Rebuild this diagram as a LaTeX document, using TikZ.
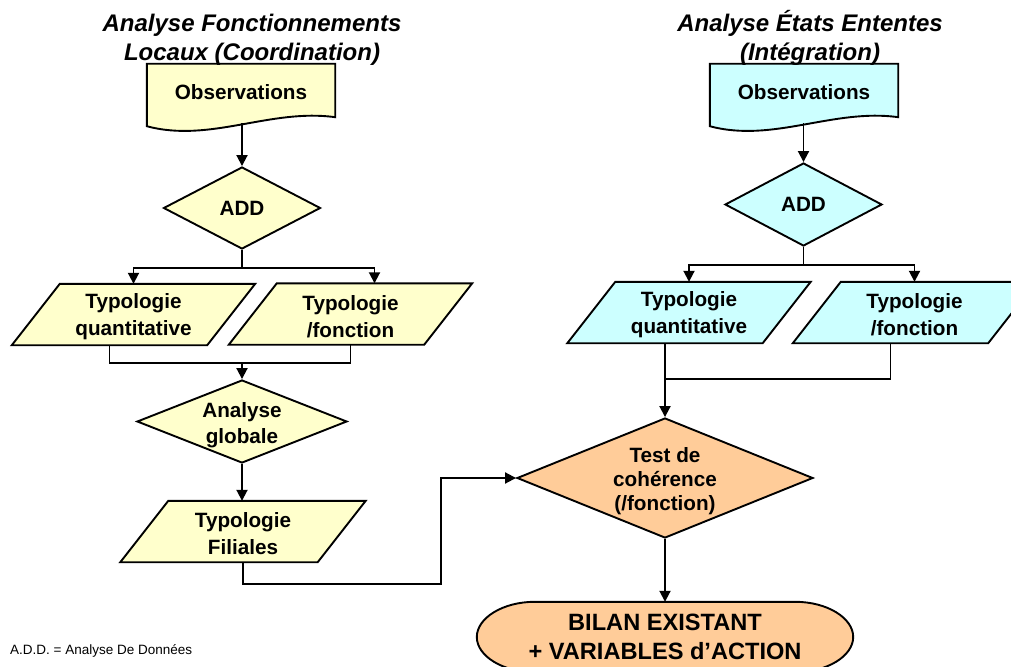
\documentclass[tikz,border=0pt]{standalone}
\usepackage{fontspec}
\setmainfont{Liberation Sans}
\usetikzlibrary{shapes.geometric,arrows.meta,calc,backgrounds}
\definecolor{yel}{HTML}{FFFFCC}
\definecolor{cya}{HTML}{CCFFFF}
\definecolor{ora}{HTML}{FFCC99}

\begin{document}
\begin{tikzpicture}[x=1pt, y=-1pt,
    txt/.style={font=\fontsize{20.7}{27}\selectfont\bfseries, align=center, inner sep=0pt},
    heading/.style={font=\fontsize{24}{29}\selectfont\bfseries\itshape, align=center, inner sep=0pt},
    doc/.style={txt, minimum width=188pt, minimum height=56pt},
    io/.style={txt, minimum width=195pt, minimum height=61pt, text height=47pt},
    decision/.style={txt, diamond, draw, line width=1.9pt, shape aspect=2.5},
    link/.style={line width=1.9pt},
    flow/.style={link, -{Triangle[length=11pt,width=11pt]}}]
  \useasboundingbox (0,0) rectangle (1011,666);

  % Titles
  \node[heading] (titleL) at (252,40) {Analyse Fonctionnements\\Locaux (Coordination)};
  \node[heading] (titleR) at (810,38) {Analyse États Ententes\\(Intégration)};

  % Left column
  \node[doc] (obsL) at (241,92) {Observations};
  \node[decision, fill=yel, minimum width=157pt, minimum height=82pt] (addL) at (242,208) {ADD};
  \node[io] (qtL) at (133.5,314.5) {Typologie\\quantitative};
  \node[io] (fnL) at (350.5,314) {Typologie\\/fonction};
  \coordinate (joinL) at (242,363);
  \node[decision, fill=yel, minimum width=210pt, minimum height=83pt, text height=44pt, text depth=0pt,
        font=\fontsize{20.7}{26}\selectfont\bfseries] (globL) at (242,421.5) {Analyse\\globale};
  \node[io, minimum width=197pt, text height=46pt] (filL) at (243,531.5) {Typologie\\Filiales};
  \coordinate (turnL) at (441,478);

  % Right column
  \node[doc] (obsR) at (804,92) {Observations};
  \node[decision, fill=cya, minimum width=157pt, minimum height=83pt] (addR) at (803.5,204.5) {ADD};
  \node[io] (qtR) at (689,312.5) {Typologie\\quantitative};
  \node[io] (fnR) at (914.5,312.5) {Typologie\\/fonction};
  \coordinate (joinR) at (665,379);
  \node[decision, fill=ora, minimum width=296pt, minimum height=120pt, text height=69pt,
        font=\fontsize{20.7}{24}\selectfont\bfseries] (test) at (665,478) {Test de\\cohérence\\(/fonction)};
  \node[txt, minimum width=376pt, minimum height=70pt,
        font=\fontsize{23.6}{29}\selectfont\bfseries] (bilan) at (665,637) {BILAN EXISTANT\\+ VARIABLES d’ACTION};

  \node[anchor=west, inner sep=0pt, font=\fontsize{13.5}{15}\selectfont] (note) at (10,651) {A.D.D. = Analyse De Données};

  % Shapes behind the texts
  \begin{pgfonlayer}{background}
    \foreach \n/\c in {obsL/yel, obsR/cya}
      \draw[link, fill=\c] ($(\n.south west)+(0,6)$) -- (\n.north west) -- (\n.north east)
        -- ($(\n.south east)+(0,-3)$) .. controls ($(\n.south)+(29,-12)$) and ($(\n.south)+(-31,23)$)
        .. ($(\n.south west)+(0,6)$) -- cycle;
    \foreach \n/\c in {qtL/yel, fnL/yel, filL/yel, qtR/cya, fnR/cya}
      \draw[link, fill=\c] ($(\n.south west)+(-24,0)$) -- ($(\n.north west)+(24,0)$)
        -- ($(\n.north east)+(24,0)$) -- ($(\n.south east)+(-24,0)$) -- cycle;
    \draw[link, fill=ora] ($(bilan.north west)+(58,0)$) -- ($(bilan.north east)+(-58,0)$)
      .. controls ($(bilan.north east)+(-26,0)$) and ($(bilan.east)+(0,-19)$) .. (bilan.east)
      .. controls ($(bilan.east)+(0,19)$) and ($(bilan.south east)+(-26,0)$) .. ($(bilan.south east)+(-58,0)$)
      -- ($(bilan.south west)+(58,0)$)
      .. controls ($(bilan.south west)+(26,0)$) and ($(bilan.west)+(0,19)$) .. (bilan.west)
      .. controls ($(bilan.west)+(0,-19)$) and ($(bilan.north west)+(26,0)$) .. ($(bilan.north west)+(58,0)$) -- cycle;
  \end{pgfonlayer}

  % Left flow
  \draw[flow] ($(addL.north |- obsL.south)+(0,3)$) -- (addL.north);
  \draw[flow] (addL.south) -- ++(0,18) -| (qtL.north);
  \draw[flow] (addL.south) -- ++(0,18) -| ($(fnL.north)+(24,0)$);
  \draw[link] ($(qtL.south)+(-24,0)$) |- (joinL) -| (fnL.south);
  \draw[flow] (joinL) -- (globL.north);
  \draw[flow] (globL.south) -- (globL.south |- filL.north);
  \draw[flow] (filL.south) -- ++(0,22) -| (turnL) -- (test.west);

  % Right flow
  \draw[flow] ($(addR.north |- obsR.south)+(0,3)$) -- (addR.north);
  \draw[flow] (addR.south) -- ++(0,18) -| (qtR.north);
  \draw[flow] (addR.south) -- ++(0,18) -| (fnR.north);
  \draw[link] ($(qtR.south)+(-24,0)$) |- (joinR) -| ($(fnR.south)+(-24,0)$);
  \draw[flow] (joinR) -- (test.north);
  \draw[flow] (test.south) -- (bilan.north);
\end{tikzpicture}
\end{document}
